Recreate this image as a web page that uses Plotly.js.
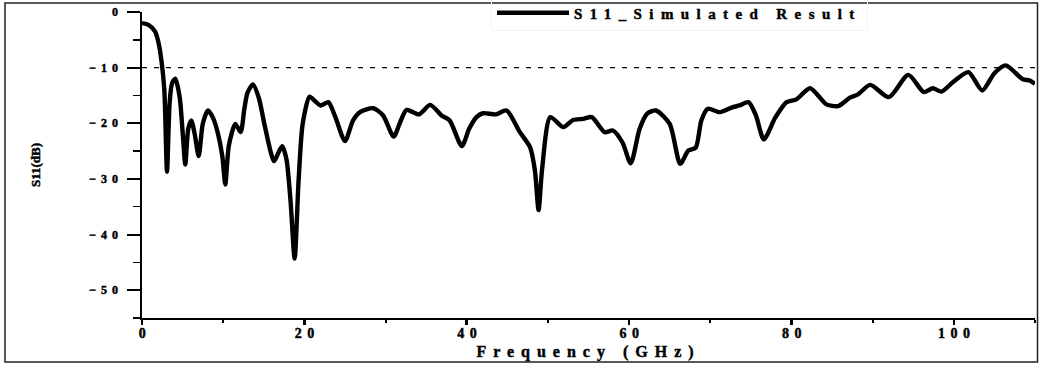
<!DOCTYPE html>
<html>
<head>
<meta charset="utf-8">
<script src="https://cdn.plot.ly/plotly-3.0.1.min.js"></script>
<style>
  html, body { margin: 0; padding: 0; background: #fff; }
  #chart { width: 1040px; height: 369px; }
  /* heavy, widely set labels */
  .xtick text, .ytick text, .legendtext, .xtitle, .ytitle {
    font-weight: bold !important; stroke: #000; stroke-width: 0.45px;
  }
  .xtick text { letter-spacing: 5.5px; }
  .ytick text { letter-spacing: 5px; }
  .legendtext { letter-spacing: 7.4px; }
  .xtitle { letter-spacing: 7px; }
</style>
</head>
<body>
<div id="chart"></div>
<script>
// S11 return loss of the antenna, simulated sweep 0-110 GHz
const freqGHz = [0, 0.8, 1.6, 2.0, 2.4, 2.75, 3.08, 3.4, 3.7, 4.1, 4.64, 5.05, 5.33, 5.7, 6.07, 6.5, 6.98, 7.5, 8.13, 8.8, 9.36, 9.9, 10.26, 10.7, 11.5, 12.15, 12.6, 13.0, 13.67, 14.4, 15.2, 16.26, 16.8, 17.28, 17.8, 18.3, 18.8, 19.3, 19.8, 20.65, 21.3, 22.0, 22.95, 23.8, 25.0, 26.0, 26.85, 28.5, 29.7, 31.0, 31.8, 32.6, 34.1, 35.5, 36.9, 37.9, 39.4, 40.3, 41.2, 42.0, 43.6, 44.9, 46.55, 47.8, 48.4, 48.85, 49.3, 50.3, 51.9, 53.1, 54.35, 55.4, 57.0, 58.0, 59.2, 60.2, 61.3, 62.2, 63.3, 65.0, 66.3, 67.3, 68.2, 68.9, 69.7, 71.2, 72.8, 73.6, 74.7, 75.6, 76.6, 78.0, 79.4, 80.6, 82.3, 84.3, 85.75, 87.2, 88.2, 89.7, 92.0, 94.4, 96.3, 97.4, 98.5, 99.9, 101.8, 103.5, 105.0, 106.4, 108.5, 109.3, 110];
const s11dB = [-2.0, -2.3, -3.5, -5.3, -8.8, -14.0, -28.7, -16.4, -12.8, -12.0, -15.3, -22.5, -27.4, -21.0, -19.5, -22.0, -25.9, -20.0, -17.7, -19.2, -21.9, -26.0, -31.0, -24.0, -20.1, -21.6, -17.5, -14.5, -13.0, -15.5, -21.0, -26.8, -25.3, -24.1, -26.5, -34.0, -44.3, -30.0, -20.0, -15.2, -16.0, -16.8, -16.2, -18.8, -23.2, -19.5, -18.0, -17.3, -18.6, -22.4, -19.8, -17.6, -18.4, -16.7, -18.6, -19.5, -24.1, -21.0, -18.9, -18.2, -18.4, -17.7, -21.6, -24.3, -28.5, -35.6, -28.0, -18.9, -20.7, -19.4, -19.2, -18.9, -21.6, -21.3, -23.5, -27.2, -21.0, -18.3, -17.7, -20.1, -27.3, -24.9, -24.4, -19.5, -17.4, -18.0, -17.1, -16.8, -16.2, -18.5, -22.9, -19.0, -16.2, -15.7, -13.7, -16.6, -16.9, -15.4, -14.8, -13.1, -15.3, -11.3, -14.4, -13.7, -14.3, -12.6, -10.8, -14.1, -11.0, -9.6, -12.1, -12.3, -12.9];

const seriesName = 'S11_Simulated Result';
const thresholdDB = -10;
const xTickVals = [0, 20, 40, 60, 80, 100];
const yTickVals = [0, -10, -20, -30, -40, -50];

const serif = '"Liberation Serif", "Times New Roman", serif';

const traces = [{
  x: freqGHz,
  y: s11dB,
  type: 'scatter',
  mode: 'lines',
  name: seriesName,
  line: { color: '#000', width: 4.4, shape: 'spline', smoothing: 0.7 }
}];

// chart size/placement helpers (px -> paper)
const W = 1040, H = 369;
const M = { l: 142, r: 5, t: 11.5, b: 51, autoexpand: false };
const pw = W - M.l - M.r, ph = H - M.t - M.b;
const px = v => (v - M.l) / pw;
const py = v => (H - M.b - v) / ph;

const layout = {
  width: W, height: H,
  margin: M,
  paper_bgcolor: '#fff',
  plot_bgcolor: '#fff',
  font: { family: serif, color: '#000', size: 12, weight: 'bold' },
  showlegend: true,
  legend: {
    x: px(491), xanchor: 'left',
    yref: 'container', y: 1 - 13 / H, yanchor: 'middle',
    bgcolor: 'rgba(255,255,255,0)',
    bordercolor: '#f3f3f3', borderwidth: 1,
    itemwidth: 72,
    font: { family: serif, size: 15, weight: 'bold', color: '#000' },
    tracegroupgap: 0
  },
  xaxis: {
    range: [0, 110],
    tickvals: xTickVals,
    ticks: 'outside', ticklen: 5, tickwidth: 2.5, tickcolor: '#000',
    minor: { dtick: 10, ticks: 'outside', ticklen: 3, tickwidth: 2, tickcolor: '#000' },
    showline: true, linecolor: '#000', linewidth: 2,
    showgrid: false, zeroline: false,
    tickfont: { family: serif, size: 14, weight: 'bold' },
    ticklabelstandoff: -4,
    ticklabelshift: 3,
    automargin: false,
    title: { text: 'Frequency (GHz)', font: { family: serif, size: 16, weight: 'bold' }, standoff: 6 }
  },
  yaxis: {
    range: [-55, 0],
    tickvals: yTickVals,
    ticks: 'outside', ticklen: 13, tickwidth: 2, tickcolor: '#000',
    minor: { dtick: 5, ticks: 'outside', ticklen: 7, tickwidth: 1.5, tickcolor: '#000' },
    showline: true, linecolor: '#000', linewidth: 2.5,
    showgrid: false, zeroline: false,
    tickfont: { family: serif, size: 12, weight: 'bold' },
    ticklabelstandoff: 1,
    automargin: false,
    title: { text: 'S11(dB)', font: { family: serif, size: 13, weight: 'bold' }, standoff: 46 }
  },
  shapes: [
    // -10 dB reference level
    { type: 'line', xref: 'paper', yref: 'y', x0: 0, x1: 1, y0: thresholdDB, y1: thresholdDB,
      line: { color: '#000', width: 1.2, dash: '5px,7px' }, layer: 'below' },
    // outer frame around the figure
    { type: 'rect', xref: 'paper', yref: 'paper',
      x0: px(5), x1: px(1037.5), y0: py(362), y1: py(2.5),
      line: { color: '#222', width: 1.5 }, fillcolor: 'rgba(0,0,0,0)' }
  ]
};

Plotly.newPlot('chart', traces, layout, { displayModeBar: false, staticPlot: true });
</script>
</body>
</html>
